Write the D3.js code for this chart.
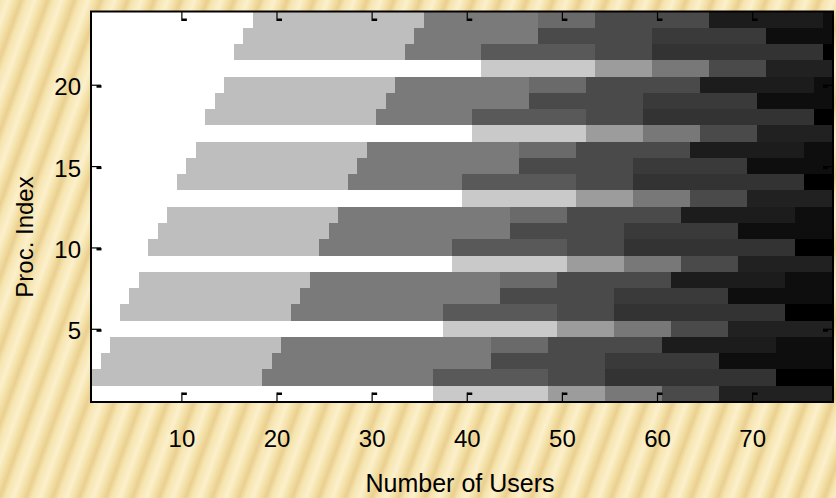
<!DOCTYPE html>
<html>
<head>
<meta charset="utf-8">
<script src="https://cdn.jsdelivr.net/npm/d3@7"></script>
<style>
  html, body { margin: 0; padding: 0; }
  body {
    width: 836px; height: 498px; overflow: hidden;
    background: repeating-linear-gradient(110deg,
      #f6e5b0 0px, #fcf0cc 8px, #f4e2a9 14px, #eacf90 20px, #f6e5b0 25px);
  }
  svg { display: block; }
  text { font-family: "Liberation Sans", Arial, sans-serif; fill: #000; }
</style>
</head>
<body>
<svg id="chart" width="836" height="498"></svg>
<script>
// Cell intensities (0 = black, 1 = white)
const W = 1.00;                                   // idle
const LA = 0.79, MA = 0.61, NA = 0.47, PA = 0.29, QA = 0.13;
const L = 0.745, G = 0.48, S = 0.35, H = 0.415, P = 0.29,
      T = 0.227, U = 0.20, V = 0.11, X = 0.055, K = 0.00;

// Processor indices (rows, bottom to top)
const procIndex = [1, 2, 3, 4, 5, 6, 7, 8, 9, 10, 11, 12,
                   13, 14, 15, 16, 17, 18, 19, 20, 21, 22, 23, 24];

// Each row: runs of [intensity, number of user columns], starting at user 1
const runs = [
  [[W,36],[LA,12],[MA,6],[NA,6],[PA,6],[QA,12]],
  [[L,18],[G,18],[S,12],[P,6],[U,18],[K,6]],
  [[W,1],[L,18],[G,23],[P,12],[T,12],[X,12]],
  [[W,2],[L,18],[G,22],[H,6],[P,12],[V,12],[X,6]],
  [[W,37],[LA,12],[MA,6],[NA,6],[PA,6],[QA,11]],
  [[W,3],[L,18],[G,16],[S,12],[P,6],[U,18],[K,5]],
  [[W,4],[L,18],[G,21],[P,12],[T,12],[X,11]],
  [[W,5],[L,18],[G,20],[H,6],[P,12],[V,12],[X,5]],
  [[W,38],[LA,12],[MA,6],[NA,6],[PA,6],[QA,10]],
  [[W,6],[L,18],[G,14],[S,12],[P,6],[U,18],[K,4]],
  [[W,7],[L,18],[G,19],[P,12],[T,12],[X,10]],
  [[W,8],[L,18],[G,18],[H,6],[P,12],[V,12],[X,4]],
  [[W,39],[LA,12],[MA,6],[NA,6],[PA,6],[QA,9]],
  [[W,9],[L,18],[G,12],[S,12],[P,6],[U,18],[K,3]],
  [[W,10],[L,18],[G,17],[P,12],[T,12],[X,9]],
  [[W,11],[L,18],[G,16],[H,6],[P,12],[V,12],[X,3]],
  [[W,40],[LA,12],[MA,6],[NA,6],[PA,6],[QA,8]],
  [[W,12],[L,18],[G,10],[S,12],[P,6],[U,18],[K,2]],
  [[W,13],[L,18],[G,15],[P,12],[T,12],[X,8]],
  [[W,14],[L,18],[G,14],[H,6],[P,12],[V,12],[X,2]],
  [[W,41],[LA,12],[MA,6],[NA,6],[PA,6],[QA,7]],
  [[W,15],[L,18],[G,8],[S,12],[P,6],[U,18],[K,1]],
  [[W,16],[L,18],[G,13],[P,12],[T,12],[X,7]],
  [[W,17],[L,18],[G,12],[H,6],[P,12],[V,12],[X,1]]
];

const usersCount = 78;
const xTicks = [10, 20, 30, 40, 50, 60, 70];
const yTicks = [5, 10, 15, 20];

const margin = { left: 91, right: 3, top: 11.5, bottom: 96 };
const width = 836, height = 498;

const svg = d3.select("#chart");

const x = d3.scaleLinear()
  .domain([0.5, usersCount + 0.5])
  .range([margin.left, width - margin.right]);
const y = d3.scaleLinear()
  .domain([0.5, procIndex.length + 0.5])
  .range([height - margin.bottom, margin.top]);
const gray = d3.scaleLinear().domain([0, 1]).range(["#000000", "#ffffff"]);

// Flatten runs into segments with start/end user columns
const segments = [];
procIndex.forEach((p, i) => {
  let start = 1;
  runs[i].forEach(([v, n]) => {
    segments.push({ proc: p, from: start, to: start + n - 1, value: v });
    start += n;
  });
});

svg.append("g")
  .attr("shape-rendering", "crispEdges")
  .selectAll("rect")
  .data(segments)
  .join("rect")
  .attr("x", d => x(d.from - 0.5))
  .attr("width", d => x(d.to + 0.5) - x(d.from - 0.5))
  .attr("y", d => y(d.proc + 0.5))
  .attr("height", d => y(d.proc - 0.5) - y(d.proc + 0.5))
  .attr("fill", d => gray(d.value));

// Axes with inward ticks on all four sides
const tickLen = 9.5;
function styleTicks(g, flag) {
  g.select(".domain").remove();
  g.selectAll(".tick line").attr("stroke", "#000").attr("stroke-width", 1.2);
  g.selectAll(".tick").append("rect")
    .attr("x", flag.x).attr("y", flag.y)
    .attr("width", flag.w).attr("height", flag.h)
    .attr("fill", "#000");
}

const gxb = svg.append("g")
  .attr("transform", `translate(0,${y(0.5)})`)
  .call(d3.axisBottom(x).tickValues(xTicks).tickSizeInner(-tickLen).tickSizeOuter(0));
styleTicks(gxb, { x: 0, y: -tickLen, w: 5, h: 2.5 });
gxb.selectAll(".tick text")
  .attr("y", 45).attr("dy", null)
  .attr("font-size", 24);

const gxt = svg.append("g")
  .attr("transform", `translate(0,${y(procIndex.length + 0.5)})`)
  .call(d3.axisTop(x).tickValues(xTicks).tickSizeInner(-tickLen).tickSizeOuter(0).tickFormat(""));
styleTicks(gxt, { x: 0, y: tickLen - 2.5, w: 5, h: 2.5 });

const gyl = svg.append("g")
  .attr("transform", `translate(${x(0.5)},0)`)
  .call(d3.axisLeft(y).tickValues(yTicks).tickSizeInner(-10).tickSizeOuter(0));
styleTicks(gyl, { x: 5.5, y: 0, w: 5, h: 2.5 });
gyl.selectAll(".tick text")
  .attr("x", -10).attr("dy", 10)
  .attr("font-size", 24);

const gyr = svg.append("g")
  .attr("transform", `translate(${x(usersCount + 0.5)},0)`)
  .call(d3.axisRight(y).tickValues(yTicks).tickSizeInner(-10).tickSizeOuter(0).tickFormat(""));
styleTicks(gyr, { x: -10, y: 0, w: 5, h: 2.5 });

// Plot frame
svg.append("rect")
  .attr("x", x(0.5)).attr("y", y(procIndex.length + 0.5))
  .attr("width", x(usersCount + 0.5) - x(0.5))
  .attr("height", y(0.5) - y(procIndex.length + 0.5))
  .attr("fill", "none").attr("stroke", "#000").attr("stroke-width", 2);

// Axis titles
svg.append("text")
  .attr("x", 460).attr("y", 491.5)
  .attr("text-anchor", "middle")
  .attr("font-size", 25)
  .text("Number of Users");

svg.append("text")
  .attr("transform", `translate(32.5,237) rotate(-90)`)
  .attr("text-anchor", "middle")
  .attr("font-size", 24)
  .text("Proc. Index");
</script>
</body>
</html>
